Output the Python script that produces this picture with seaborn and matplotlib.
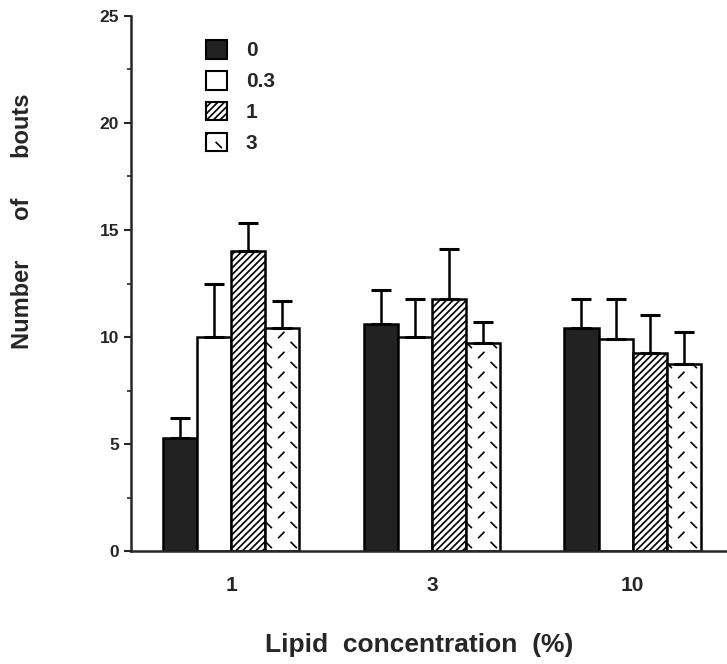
import warnings
warnings.simplefilter("ignore")

import matplotlib
matplotlib.use("Agg")
import matplotlib.pyplot as plt
from matplotlib import hatch as mhatch
from matplotlib.path import Path
from matplotlib.patches import Patch
import seaborn as sns
import pandas as pd
import numpy as np

# data
lipid = ["1", "3", "10"]
doses = ["0", "0.3", "1", "3"]
means = {
    "0":   [5.3, 10.6, 10.4],
    "0.3": [10.0, 10.0, 9.9],
    "1":   [14.0, 11.8, 9.25],
    "3":   [10.4, 9.7, 8.75],
}
errs = {
    "0":   [0.9, 1.6, 1.4],
    "0.3": [2.5, 1.8, 1.9],
    "1":   [1.35, 2.3, 1.8],
    "3":   [1.3, 1.0, 1.5],
}


# short-dash hatch for the last series ("d" in the hatch string)
class DashHatch(mhatch.HatchPatternBase):
    ncol, nrow, half = 8, 5, 0.026

    def __init__(self, hatch, density):
        self.num_vertices = 2 * self.ncol * self.nrow if "d" in hatch else 0

    def set_vertices_and_codes(self, vertices, codes):
        k = 0
        for j in range(self.ncol):
            s = 1 if j % 2 == 0 else -1
            for i in range(self.nrow):
                cx = (j + 0.5) / self.ncol
                cy = (i + 0.5 * (j % 2) + 0.25) / self.nrow
                vertices[k] = (cx - self.half, cy - s * self.half)
                vertices[k + 1] = (cx + self.half, cy + s * self.half)
                codes[k] = Path.MOVETO
                codes[k + 1] = Path.LINETO
                k += 2


mhatch._hatch_types.append(DashHatch)

rows = []
for d in doses:
    for i, c in enumerate(lipid):
        rows.append({"lipid": c, "dose": d, "bouts": means[d][i]})
df = pd.DataFrame(rows)

sns.set_style("ticks")
plt.rcParams['font.family'] = ['Liberation Sans', 'DejaVu Sans']
plt.rcParams['hatch.linewidth'] = 1.2

fig = plt.figure(figsize=(7.27, 6.64), dpi=100)
ax = fig.add_axes([0.180, 0.170, 0.82, 0.806])

face = {"0": "#222222", "0.3": "white", "1": "white", "3": "white"}
hatches = {"0": "", "0.3": "", "1": "/////", "3": "d"}

sns.barplot(data=df, x="lipid", y="bouts", hue="dose", order=lipid,
            hue_order=doses, palette=face, width=0.68, gap=0,
            errorbar=None, edgecolor="black", linewidth=1.8,
            legend=False, ax=ax)

for cont, d in zip(ax.containers, doses):
    xs, ys = [], []
    for p in cont.patches:
        p.set_hatch(hatches[d])
        p.set_edgecolor("black")
        xs.append(p.get_x() + p.get_width() / 2)
        ys.append(p.get_height())
    ax.errorbar(xs, ys, yerr=[np.zeros(len(ys)), errs[d]], fmt="none",
                ecolor="black", elinewidth=1.8, capsize=7, capthick=2.2,
                zorder=1)

# legend with square swatches
handles = [Patch(facecolor=face[d], edgecolor="black", hatch=hatches[d],
                 linewidth=1.5) for d in doses]
ax.legend(handles, doses, loc="upper left", bbox_to_anchor=(0.095, 0.99),
          frameon=False, handlelength=1.0, handleheight=1.0,
          labelspacing=0.5, handletextpad=0.9,
          prop={"weight": "bold", "size": 15})

ax.set_ylim(0, 25)
ax.set_xlim(-0.5, 2.47)
ax.set_yticks([0, 5, 10, 15, 20, 25])
ax.set_yticks([2.5, 7.5, 12.5, 17.5, 22.5], minor=True)
ax.tick_params(axis="y", which="major", length=5, width=1.5, labelsize=12.5)
ax.tick_params(axis="y", which="minor", length=3, width=1.2)
ax.tick_params(axis="x", length=0, labelsize=15, pad=18)
for lab in ax.get_xticklabels() + ax.get_yticklabels():
    lab.set_fontweight("bold")

sns.despine(ax=ax)
ax.spines["left"].set_linewidth(1.8)
ax.spines["bottom"].set_linewidth(1.8)

ax.set_xlabel("Lipid  concentration  (%)", fontsize=19, fontweight="bold")
ax.set_ylabel("Number      of      bouts", fontsize=17, fontweight="bold")
ax.xaxis.set_label_coords(0.483, -0.153)
ax.yaxis.set_label_coords(-0.163, 0.617)

fig.savefig("out.png", dpi=100)
